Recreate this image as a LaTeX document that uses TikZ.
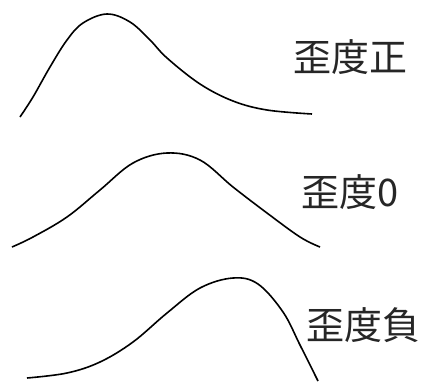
\documentclass[tikz,border=0pt]{standalone}
\usepackage{fontspec}
\newfontfamily\cjk{Noto Sans CJK JP}
\begin{document}
\begin{tikzpicture}[x=1pt,y=-1pt,
  curve/.style={line width=1.6pt,black,smooth,tension=0.6},
  lbl/.style={font=\cjk\fontsize{38}{40}\selectfont,text=black!85,inner sep=0pt}]
\useasboundingbox (0,0) rectangle (425,381);
\fill[white] (0,0) rectangle (425,381);
% skew positive
\draw[curve] plot coordinates {(20,117) (33,97) (50,67) (67,40) (83,23) (107,14) (130,22) (150,40) (167,58) (200,84) (233,101) (267,110) (312,114)};
% skew zero
\draw[curve] plot coordinates {(12,247) (33,237) (67,217) (100,190) (133,163) (167,153) (200,160) (233,187) (267,213) (300,237) (320,247)};
% skew negative
\draw[curve] plot coordinates {(27,378) (67,373) (100,362) (133,342) (167,313) (200,288) (233,278) (258,284) (283,312) (300,345) (318,381)};
\node[lbl] (pos) at (350,57) {歪度正};
\node[lbl] (zero) at (350,192) {歪度0};
\node[lbl] (neg) at (363,325) {歪度負};
\end{tikzpicture}
\end{document}
